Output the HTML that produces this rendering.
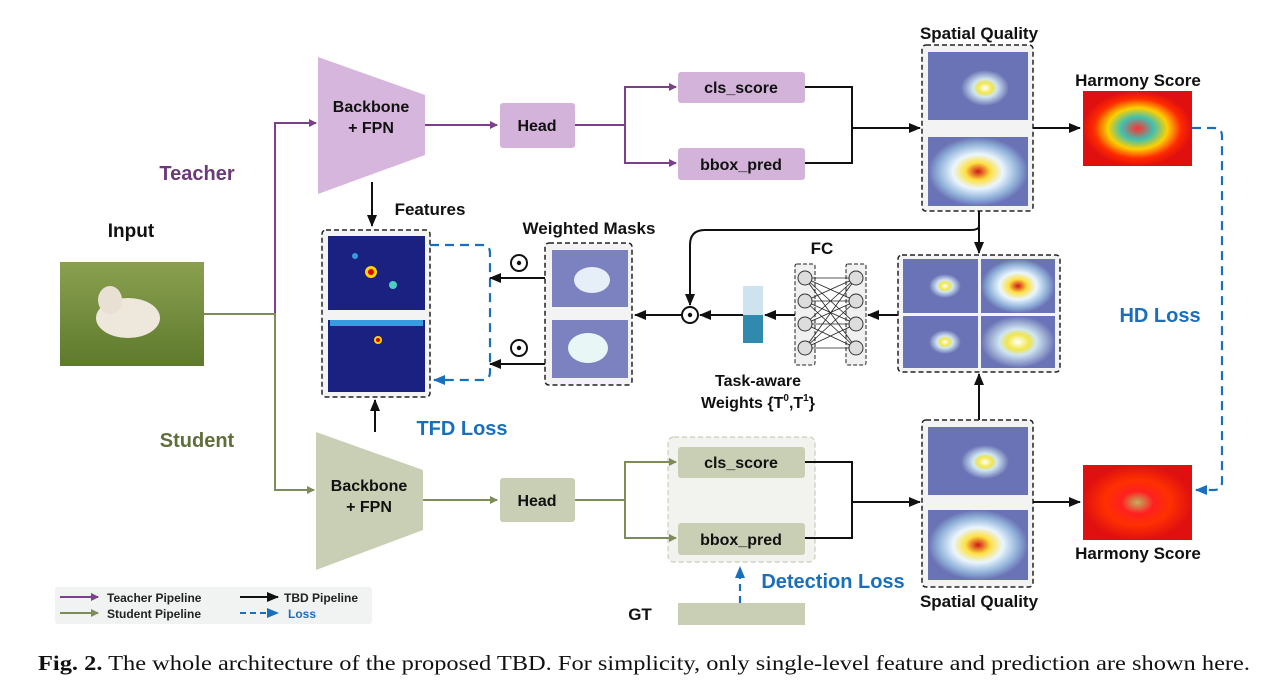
<!DOCTYPE html>
<html><head><meta charset="utf-8"><style>
html,body{margin:0;padding:0;background:#fff;}
svg{display:block;font-family:"Liberation Sans",Arial,sans-serif;}
</style></head><body>
<svg width="1287" height="690" viewBox="0 0 1287 690" xmlns="http://www.w3.org/2000/svg">
<defs>
<marker id="ap" markerWidth="8" markerHeight="8" refX="7" refY="4" orient="auto" markerUnits="userSpaceOnUse"><path d="M0,0 L8,4 L0,8 z" fill="#7b3f8c"/></marker>
<marker id="ag" markerWidth="8" markerHeight="8" refX="7" refY="4" orient="auto" markerUnits="userSpaceOnUse"><path d="M0,0 L8,4 L0,8 z" fill="#7d8c58"/></marker>
<marker id="ak" markerWidth="12" markerHeight="10" refX="11" refY="5" orient="auto" markerUnits="userSpaceOnUse"><path d="M0,0 L12,5 L0,10 z" fill="#111"/></marker>
<marker id="ab" markerWidth="12" markerHeight="10" refX="11" refY="5" orient="auto" markerUnits="userSpaceOnUse"><path d="M0,0 L12,5 L0,10 z" fill="#1a6fbd"/></marker>
<radialGradient id="heat"><stop offset="0" stop-color="#d01818"/><stop offset="0.25" stop-color="#ffe040"/><stop offset="0.5" stop-color="#eaf6ff"/><stop offset="0.8" stop-color="#8fb0d8"/><stop offset="1" stop-color="#6a73b5"/></radialGradient>
<radialGradient id="heat2"><stop offset="0" stop-color="#ffffff"/><stop offset="0.3" stop-color="#f2e64a"/><stop offset="0.5" stop-color="#cfe6f2"/><stop offset="1" stop-color="#6a73b5"/></radialGradient>
<radialGradient id="hs"><stop offset="0" stop-color="#ff3030"/><stop offset="0.3" stop-color="#40c0b0"/><stop offset="0.55" stop-color="#ffd000"/><stop offset="0.8" stop-color="#ff2a00"/><stop offset="1" stop-color="#e01010"/></radialGradient>
<radialGradient id="hs2"><stop offset="0" stop-color="#c0b060"/><stop offset="0.3" stop-color="#ff2020"/><stop offset="0.6" stop-color="#ff3000"/><stop offset="1" stop-color="#e01010"/></radialGradient>
<linearGradient id="grass" x1="0" y1="0" x2="0" y2="1"><stop offset="0" stop-color="#8aa050"/><stop offset="1" stop-color="#5e7a2c"/></linearGradient>
</defs>

<text x="131" y="237" font-size="19" font-weight="bold" text-anchor="middle" fill="#111">Input</text>
<rect x="60" y="262" width="144" height="104" fill="url(#grass)"/>
<ellipse cx="128" cy="318" rx="32" ry="20" fill="#eee8dc"/>
<ellipse cx="110" cy="300" rx="12" ry="14" fill="#e8e0d2"/>
<text x="197" y="180" font-size="20" font-weight="bold" text-anchor="middle" fill="#6b3a7a">Teacher</text>
<text x="197" y="447" font-size="20" font-weight="bold" text-anchor="middle" fill="#5f6e3c">Student</text>

<path d="M275,314 V123 H316" fill="none" stroke="#7b3f8c" stroke-width="2" marker-end="url(#ap)"/>
<path d="M204,314 H275 V490 H314" fill="none" stroke="#7d8c58" stroke-width="2" marker-end="url(#ag)"/>

<polygon points="318,57 425,95 425,155 318,194" fill="#d6b6dc"/>
<text x="371" y="112" font-size="16" font-weight="bold" text-anchor="middle" fill="#111">Backbone</text>
<text x="371" y="133" font-size="16" font-weight="bold" text-anchor="middle" fill="#111">+ FPN</text>
<path d="M425,125 H497" stroke="#7b3f8c" stroke-width="2" marker-end="url(#ap)"/>
<rect x="500" y="103" width="75" height="45" rx="3" fill="#d3b3da"/>
<text x="537" y="131" font-size="16" font-weight="bold" text-anchor="middle" fill="#111">Head</text>
<path d="M575,125 H625 V87 H676 M625,125 V163 H676" fill="none" stroke="#7b3f8c" stroke-width="2"/>
<path d="M665,87 H676" stroke="#7b3f8c" stroke-width="2" marker-end="url(#ap)"/>
<path d="M665,163 H676" stroke="#7b3f8c" stroke-width="2" marker-end="url(#ap)"/>
<rect x="678" y="72" width="127" height="31" rx="3" fill="#d3b3da"/>
<text x="741" y="93" font-size="16" font-weight="bold" text-anchor="middle" fill="#111">cls_score</text>
<rect x="678" y="148" width="127" height="32" rx="3" fill="#d3b3da"/>
<text x="741" y="170" font-size="16" font-weight="bold" text-anchor="middle" fill="#111">bbox_pred</text>
<path d="M805,87 H852 V163 H805 M852,128 H920" fill="none" stroke="#111" stroke-width="2" marker-end="url(#ak)"/>

<text x="979" y="39" font-size="17" font-weight="bold" text-anchor="middle" fill="#111">Spatial Quality</text>
<rect x="922" y="45" width="111" height="166" rx="4" fill="#f3f3f3" stroke="#222" stroke-width="1.5" stroke-dasharray="5,3"/>
<rect x="928" y="52" width="100" height="68" fill="#6a73b5"/>
<ellipse cx="985" cy="88" rx="24" ry="18" fill="url(#heat2)"/>
<rect x="928" y="137" width="100" height="69" fill="url(#heat)"/>
<path d="M1033,128 H1080" stroke="#111" stroke-width="2" marker-end="url(#ak)"/>
<text x="1138" y="86" font-size="17" font-weight="bold" text-anchor="middle" fill="#111">Harmony Score</text>
<rect x="1083" y="91" width="109" height="75" fill="url(#hs)"/>

<path d="M1192,128 H1214 Q1222,128 1222,136 V482 Q1222,490 1214,490 H1196" fill="none" stroke="#1a6fbd" stroke-width="2.2" stroke-dasharray="9,6" marker-end="url(#ab)"/>
<text x="1160" y="322" font-size="20" font-weight="bold" text-anchor="middle" fill="#1a6fbd">HD Loss</text>

<path d="M372,182 V226" stroke="#111" stroke-width="2" marker-end="url(#ak)"/>
<text x="430" y="215" font-size="17" font-weight="bold" text-anchor="middle" fill="#111">Features</text>
<rect x="322" y="230" width="108" height="167" rx="4" fill="#f3f3f3" stroke="#222" stroke-width="1.5" stroke-dasharray="5,3"/>
<rect x="328" y="236" width="97" height="74" fill="#1b2180"/>
<circle cx="371" cy="272" r="6" fill="#ffd400"/><circle cx="371" cy="272" r="3" fill="#d00"/>
<circle cx="393" cy="285" r="4" fill="#4ad0c0"/><circle cx="355" cy="256" r="3" fill="#3a9ae0"/>
<rect x="328" y="320" width="97" height="72" fill="#1b2180"/>
<rect x="330" y="320" width="93" height="6" fill="#3a9ae0"/>
<circle cx="378" cy="340" r="4" fill="#ffd400"/><circle cx="378" cy="340" r="2" fill="#d00"/>
<path d="M430,245 H482 Q490,245 490,253 V372 Q490,380 482,380 H434" fill="none" stroke="#1a6fbd" stroke-width="2.2" stroke-dasharray="9,6" marker-end="url(#ab)"/>
<text x="462" y="435" font-size="20" font-weight="bold" text-anchor="middle" fill="#1a6fbd">TFD Loss</text>
<path d="M375,432 V400" stroke="#111" stroke-width="2" marker-end="url(#ak)"/>

<text x="589" y="234" font-size="17" font-weight="bold" text-anchor="middle" fill="#111">Weighted Masks</text>
<rect x="545" y="243" width="87" height="142" rx="4" fill="#f3f3f3" stroke="#222" stroke-width="1.5" stroke-dasharray="5,3"/>
<rect x="552" y="250" width="76" height="57" fill="#7c82c0"/>
<ellipse cx="592" cy="280" rx="18" ry="13" fill="#e6eef8"/>
<rect x="552" y="320" width="76" height="58" fill="#7c82c0"/>
<ellipse cx="588" cy="348" rx="20" ry="15" fill="#e8f6f6"/>
<circle cx="519" cy="263" r="8" fill="none" stroke="#111" stroke-width="2"/><circle cx="519" cy="263" r="2.2" fill="#111"/>
<circle cx="519" cy="348" r="8" fill="none" stroke="#111" stroke-width="2"/><circle cx="519" cy="348" r="2.2" fill="#111"/>
<path d="M545,278 H490" stroke="#111" stroke-width="2" marker-end="url(#ak)"/>
<path d="M545,364 H490" stroke="#111" stroke-width="2" marker-end="url(#ak)"/>

<path d="M979,211 V226 Q979,230 970,230 H705 Q690,230 690,245 V305" fill="none" stroke="#111" stroke-width="2" marker-end="url(#ak)"/>
<path d="M979,226 V253" stroke="#111" stroke-width="2" marker-end="url(#ak)"/>
<circle cx="690" cy="315" r="8" fill="#fff" stroke="#111" stroke-width="2"/><circle cx="690" cy="315" r="2.2" fill="#111"/>
<path d="M682,315 H635" stroke="#111" stroke-width="2" marker-end="url(#ak)"/>
<path d="M743,315 H700" stroke="#111" stroke-width="2" marker-end="url(#ak)"/>
<rect x="743" y="286" width="20" height="29" fill="#cfe3ef"/>
<rect x="743" y="315" width="20" height="28" fill="#2f8aad"/>
<path d="M795,315 H765" stroke="#111" stroke-width="2" marker-end="url(#ak)"/>

<text x="822" y="254" font-size="17" font-weight="bold" text-anchor="middle" fill="#111">FC</text>
<rect x="795" y="264" width="20" height="101" rx="2" fill="#f0f0f0" stroke="#222" stroke-dasharray="4,2"/>
<rect x="846" y="264" width="20" height="101" rx="2" fill="#f0f0f0" stroke="#222" stroke-dasharray="4,2"/>
<g stroke="#222" stroke-width="0.8">
<path d="M805,278 L856,278 M805,278 L856,301 M805,278 L856,324 M805,278 L856,348 M805,301 L856,278 M805,301 L856,301 M805,301 L856,324 M805,301 L856,348 M805,324 L856,278 M805,324 L856,301 M805,324 L856,324 M805,324 L856,348 M805,348 L856,278 M805,348 L856,301 M805,348 L856,324 M805,348 L856,348"/>
</g>
<g fill="#ddd" stroke="#333" stroke-width="1">
<circle cx="805" cy="278" r="7"/><circle cx="805" cy="301" r="7"/><circle cx="805" cy="324" r="7"/><circle cx="805" cy="348" r="7"/>
<circle cx="856" cy="278" r="7"/><circle cx="856" cy="301" r="7"/><circle cx="856" cy="324" r="7"/><circle cx="856" cy="348" r="7"/>
</g>
<path d="M898,315 H868" stroke="#111" stroke-width="2" marker-end="url(#ak)"/>
<text x="758" y="386" font-size="16" font-weight="bold" text-anchor="middle" fill="#111">Task-aware</text>
<text x="758" y="408" font-size="16" font-weight="bold" text-anchor="middle" fill="#111">Weights {T<tspan font-size="10" dy="-7">0</tspan><tspan dy="7">,T</tspan><tspan font-size="10" dy="-7">1</tspan><tspan dy="7">}</tspan></text>

<rect x="898" y="255" width="162" height="117" rx="4" fill="#f3f3f3" stroke="#222" stroke-width="1.5" stroke-dasharray="5,3"/>
<rect x="903" y="259" width="75" height="54" fill="#6a73b5"/><ellipse cx="945" cy="286" rx="16" ry="12" fill="url(#heat2)"/>
<rect x="981" y="259" width="74" height="54" fill="url(#heat)"/>
<rect x="903" y="316" width="75" height="52" fill="#6a73b5"/><ellipse cx="945" cy="342" rx="16" ry="12" fill="url(#heat2)"/>
<rect x="981" y="316" width="74" height="52" fill="url(#heat2)"/>
<path d="M979,420 V374" stroke="#111" stroke-width="2" marker-end="url(#ak)"/>

<polygon points="316,432 423,470 423,530 316,570" fill="#c9cfb4"/>
<text x="369" y="491" font-size="16" font-weight="bold" text-anchor="middle" fill="#111">Backbone</text>
<text x="369" y="512" font-size="16" font-weight="bold" text-anchor="middle" fill="#111">+ FPN</text>
<path d="M423,500 H497" stroke="#7d8c58" stroke-width="2" marker-end="url(#ag)"/>
<rect x="500" y="478" width="75" height="44" rx="3" fill="#c9cfb4"/>
<text x="537" y="506" font-size="16" font-weight="bold" text-anchor="middle" fill="#111">Head</text>
<rect x="668" y="437" width="147" height="125" rx="6" fill="#f2f3ee" stroke="#c8cdb8" stroke-width="1.2" stroke-dasharray="5,3"/>
<path d="M575,500 H625 V462 H676 M625,500 V538 H676" fill="none" stroke="#7d8c58" stroke-width="2"/>
<path d="M665,462 H676" stroke="#7d8c58" stroke-width="2" marker-end="url(#ag)"/>
<path d="M665,538 H676" stroke="#7d8c58" stroke-width="2" marker-end="url(#ag)"/>
<rect x="678" y="447" width="127" height="31" rx="3" fill="#c9cfb4"/>
<text x="741" y="468" font-size="16" font-weight="bold" text-anchor="middle" fill="#111">cls_score</text>
<rect x="678" y="523" width="127" height="32" rx="3" fill="#c9cfb4"/>
<text x="741" y="545" font-size="16" font-weight="bold" text-anchor="middle" fill="#111">bbox_pred</text>
<path d="M805,462 H852 V538 H805 M852,502 H920" fill="none" stroke="#111" stroke-width="2" marker-end="url(#ak)"/>

<text x="640" y="620" font-size="17" font-weight="bold" text-anchor="middle" fill="#111">GT</text>
<rect x="678" y="603" width="127" height="22" fill="#c9cfb4"/>
<path d="M740,603 V567" stroke="#1a6fbd" stroke-width="2.2" stroke-dasharray="7,5" marker-end="url(#ab)"/>
<text x="833" y="588" font-size="20" font-weight="bold" text-anchor="middle" fill="#1a6fbd">Detection Loss</text>

<rect x="922" y="420" width="111" height="167" rx="4" fill="#f3f3f3" stroke="#222" stroke-width="1.5" stroke-dasharray="5,3"/>
<rect x="928" y="427" width="100" height="68" fill="#6a73b5"/><ellipse cx="985" cy="462" rx="24" ry="17" fill="url(#heat2)"/>
<rect x="928" y="510" width="100" height="70" fill="url(#heat)"/>
<text x="979" y="607" font-size="17" font-weight="bold" text-anchor="middle" fill="#111">Spatial Quality</text>
<path d="M1033,502 H1080" stroke="#111" stroke-width="2" marker-end="url(#ak)"/>
<rect x="1083" y="465" width="109" height="75" fill="url(#hs2)"/>
<text x="1138" y="559" font-size="17" font-weight="bold" text-anchor="middle" fill="#111">Harmony Score</text>

<rect x="55" y="587" width="317" height="37" rx="3" fill="#f1f2f2"/>
<path d="M60,597 H98" stroke="#7b3f8c" stroke-width="2" marker-end="url(#ap)"/>
<path d="M60,613 H98" stroke="#7d8c58" stroke-width="2" marker-end="url(#ag)"/>
<text x="107" y="602" font-size="12" font-weight="bold" fill="#222">Teacher Pipeline</text>
<text x="107" y="618" font-size="12" font-weight="bold" fill="#222">Student Pipeline</text>
<path d="M240,597 H278" stroke="#111" stroke-width="2" marker-end="url(#ak)"/>
<path d="M240,613 H278" stroke="#1a6fbd" stroke-width="2" stroke-dasharray="6,4" marker-end="url(#ab)"/>
<text x="284" y="602" font-size="12" font-weight="bold" fill="#222">TBD Pipeline</text>
<text x="288" y="618" font-size="12" font-weight="bold" fill="#1a6fbd">Loss</text>

<text x="38" y="670" font-family="Liberation Serif,serif" font-size="21" fill="#111" textLength="1212" lengthAdjust="spacingAndGlyphs"><tspan font-weight="bold">Fig. 2.</tspan>  The whole architecture of the proposed TBD. For simplicity, only single-level feature and prediction are shown here.</text>
</svg>
</body></html>
